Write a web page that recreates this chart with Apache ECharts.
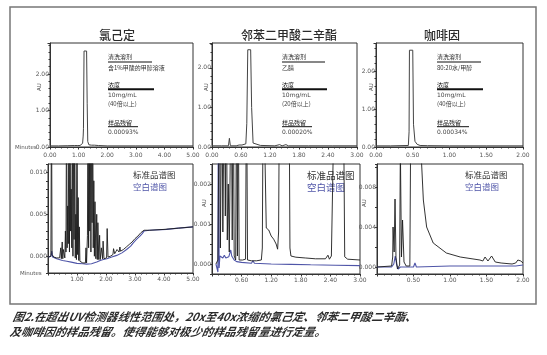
<!DOCTYPE html>
<html><head><meta charset="utf-8">
<script src="https://cdn.jsdelivr.net/npm/echarts@6/dist/echarts.min.js"></script>
<style>html,body{margin:0;padding:0;background:#fff}#c{width:547px;height:355px}</style>
</head><body><div id="c"></div>
<script>
// ---------- text content ----------
const titles = ['氯己定', '邻苯二甲酸二辛酯', '咖啡因'];
const solventHead = '清洗溶剂', concHead = '浓度', carryHead = '样品残留';
const solvents = ['含1%甲酸的甲醇溶液', '乙腈', '80:20水/甲醇'];
const concs = ['10mg/mL', '10mg/mL', '10mg/mL'];
const folds = ['(40倍以上)', '(20倍以上)', '(40倍以上)'];
const carryovers = ['0.00093%', '0.00020%', '0.00034%'];
const legendStd = '标准品谱图', legendBlank = '空白谱图';
const caption1 = '图2.在超出UV检测器线性范围处，20x至40x浓缩的氯己定、邻苯二甲酸二辛酯、';
const caption2 = '及咖啡因的样品残留。使得能够对极少的样品残留量进行定量。';

// ---------- axis ranges (min, max, interval) ----------
const xRanges = [[0, 5, 1], [0, 3, 0.6], [0, 2, 0.5]];
const topYMax = [2.85, 2.63, 2.74];

// ---------- top chromatograms (AU vs minutes) ----------
const chxTop = [[0,0.03],[0.3,0.03],[0.6,0.035],[0.85,0.04],[0.9,0.08],[0.95,0.04],[1.0,0.07],[1.05,0.04],[1.1,0.04],[1.14,0.1],[1.16,0.3],[1.17,0.5],[1.19,2.63],[1.28,2.63],[1.30,1.2],[1.32,0.15],[1.36,0.06],[1.45,0.05],[1.5,0.08],[1.55,0.05],[1.6,0.07],[1.7,0.04],[2.0,0.03],[3.0,0.03],[4.0,0.03],[5.0,0.03]];
const dopTop = [[0,0.03],[0.2,0.03],[0.34,0.03],[0.36,0.22],[0.38,0.03],[0.5,0.03],[0.56,0.05],[0.59,0.03],[0.62,0.05],[0.65,0.03],[0.70,0.08],[0.72,0.6],[0.74,2.46],[0.80,2.46],[0.82,1.0],[0.85,0.1],[0.89,0.06],[1.0,0.04],[1.3,0.03],[1.4,0.06],[1.45,0.03],[1.53,0.06],[1.58,0.03],[2.0,0.03],[2.5,0.03],[3.0,0.03]];
const cafTop = [[0,0.03],[0.2,0.03],[0.44,0.04],[0.45,0.4],[0.455,2.55],[0.50,2.55],[0.51,0.6],[0.53,0.15],[0.56,0.07],[0.6,0.04],[0.7,0.035],[1.0,0.03],[1.5,0.03],[2.0,0.03]];

// ---------- bottom chromatograms: standard (black) and blank (blue) ----------
const chxStd = [[0.02,-0.0001],[0.1,0.0000],[0.12,0.02],[0.14,0.0002],[0.2,-0.0001],[0.3,-0.0002],[0.4,-0.0002],[0.44,0.0010],[0.46,-0.0003],[0.49,0.0017],[0.51,-0.0003],[0.53,0.0008],[0.58,-0.0002],[0.6,0.0030],[0.62,0.0005],[0.64,0.02],[0.66,0.0010],[0.68,0.0060],[0.70,0.0015],[0.72,0.02],[0.74,0.0005],[0.76,0.02],[0.78,0.0030],[0.80,0.0080],[0.82,0.0010],[0.84,0.02],[0.86,0.0000],[0.88,0.02],[0.90,0.0020],[0.92,0.02],[0.94,-0.0002],[0.96,0.0050],[0.98,-0.0004],[1.00,0.02],[1.02,0.0002],[1.04,0.0070],[1.06,-0.0005],[1.08,0.0035],[1.10,-0.0006],[1.15,-0.0007],[1.20,-0.0008],[1.25,-0.0008],[1.29,-0.0008],[1.31,0.0010],[1.33,-0.0008],[1.36,0.0025],[1.38,0.02],[1.40,0.0010],[1.42,0.02],[1.44,0.0030],[1.46,0.02],[1.48,0.0005],[1.50,0.02],[1.52,0.0040],[1.54,0.02],[1.56,0.0010],[1.58,0.0090],[1.60,0.0000],[1.62,0.0065],[1.65,-0.0003],[1.68,0.0050],[1.70,-0.0004],[1.72,0.0040],[1.75,-0.0004],[1.78,0.0025],[1.80,-0.0004],[1.84,0.0010],[1.88,-0.0003],[1.90,0.0018],[1.93,-0.0003],[1.98,-0.0002],[2.02,-0.0002],[2.04,0.0033],[2.07,-0.0001],[2.15,0.0000],[2.24,0.0002],[2.26,0.0009],[2.30,0.0003],[2.36,0.0004],[2.38,0.0008],[2.45,0.0005],[2.48,0.0011],[2.50,0.0006],[2.60,0.0008],[2.70,0.0011],[2.80,0.0014],[2.90,0.0017],[3.00,0.0021],[3.10,0.0024],[3.20,0.0028],[3.31,0.0031],[3.50,0.0031],[4.00,0.0032],[4.50,0.00335],[5.00,0.0035]];
const chxBlank = [[0.02,-0.0001],[0.1,0.0000],[0.13,0.0006],[0.16,-0.0001],[0.3,-0.0003],[0.5,-0.0005],[0.65,-0.0006],[0.8,-0.0007],[1.0,-0.00085],[1.2,-0.0009],[1.33,-0.00094],[1.5,-0.0009],[1.68,-0.0007],[1.8,-0.0005],[1.91,-0.0004],[2.03,-0.0003],[2.2,-0.0001],[2.37,0.0001],[2.55,0.0004],[2.71,0.0008],[2.85,0.0012],[2.94,0.0016],[3.05,0.0020],[3.17,0.0024],[3.25,0.0027],[3.31,0.0030],[3.5,0.0031],[4.09,0.0032],[4.5,0.00335],[5.0,0.0035]];

const dopStd = [[0.08,0.0000],[0.12,0.0001],[0.15,0.005],[0.17,0.0004],[0.20,0.005],[0.22,0.0008],[0.25,0.005],[0.27,0.0012],[0.29,0.005],[0.31,0.0006],[0.33,0.0020],[0.35,0.0003],[0.39,0.005],[0.41,0.0006],[0.43,0.005],[0.45,0.0002],[0.48,0.0001],[0.50,0.005],[0.515,0.0002],[0.53,0.005],[0.55,0.0001],[0.62,0.0001],[0.68,0.00012],[0.70,0.005],[0.72,0.0001],[0.8,0.00008],[0.9,0.00008],[1.0,0.0001],[1.02,0.0004],[1.04,0.005],[1.08,0.005],[1.1,0.0009],[1.15,0.00085],[1.2,0.0007],[1.25,0.00062],[1.28,0.0006],[1.30,0.0005],[1.33,0.00037],[1.35,0.0008],[1.37,0.005],[1.56,0.005],[1.58,0.0004],[1.6,0.0002],[1.7,0.00017],[1.9,0.00015],[2.1,0.00013],[2.3,0.00013],[2.35,0.00022],[2.38,0.00012],[2.42,0.0002],[2.45,0.00015],[2.49,0.005],[2.66,0.005],[2.69,0.00018],[2.75,0.00012],[3.0,0.0001]];
const dopBlank = [[0.08,0.0000],[0.12,-0.0002],[0.13,0.005],[0.145,-0.0001],[0.16,0.0002],[0.18,0.00015],[0.2,0.0002],[0.22,0.00015],[0.25,0.00022],[0.28,0.00015],[0.31,0.0002],[0.34,0.00018],[0.37,0.0002],[0.38,0.00035],[0.40,0.0002],[0.45,0.0001],[0.5,0.00006],[0.6,0.00004],[0.8,0.00002],[0.83,0.00008],[0.86,0.00002],[1.2,0.0],[1.6,-0.00001],[2.0,-0.00002],[2.5,-0.00003],[3.0,-0.00004]];

const cafStd = [[0,0.0000],[0.2,0.0001],[0.215,0.0010],[0.22,0.0040],[0.235,0.0015],[0.247,0.0068],[0.26,0.0010],[0.28,-0.0002],[0.31,0.0002],[0.32,0.012],[0.335,0.0010],[0.35,0.0047],[0.37,0.0005],[0.40,0.0001],[0.45,0.0001],[0.46,0.012],[0.60,0.012],[0.635,0.0067],[0.68,0.0040],[0.77,0.0024],[0.95,0.0014],[1.14,0.0010],[1.41,0.0007],[1.45,0.0006],[1.48,0.0010],[1.52,0.0006],[1.57,0.0011],[1.62,0.0005],[1.7,0.0004],[1.85,0.0003],[1.9,0.0004],[1.93,0.0007],[1.97,0.0006],[2.0,0.0004]];
const cafBlank = [[0,0.0000],[0.2,0.0000],[0.23,0.0003],[0.25,0.0011],[0.27,0.0002],[0.29,-0.0002],[0.32,0.0000],[0.5,0.0000],[0.52,0.0004],[0.54,0.0000],[1.0,0.0001],[1.5,0.0001],[1.9,0.0001],[2.0,0.0002]];

// ---------- chart ----------
const AXC = '#333', LBL = '#555';
const numFont = 'DejaVu Sans', cjk = '"Noto Sans CJK SC", sans-serif';
const grids = [
  {left: 50, top: 43, width: 143, height: 104},
  {left: 212, top: 43, width: 145, height: 104},
  {left: 376, top: 43, width: 147, height: 104},
  {left: 48, top: 164, width: 145, height: 109},
  {left: 212, top: 164, width: 148, height: 110},
  {left: 377, top: 164, width: 146, height: 110}
].map(g => Object.assign({show: true, borderColor: AXC, borderWidth: 1, containLabel: false, outerBoundsMode: 'none'}, g));

const isMult = (v, m) => Math.abs(v / m - Math.round(v / m)) < 1e-6;

const xAxis = [];
for (let i = 0; i < 6; i++) {
  const r = xRanges[i % 3], bottom = i >= 3;
  xAxis.push({
    type: 'value', gridIndex: i, min: r[0], max: r[1], interval: r[2],
    axisLine: {show: true, onZero: false, lineStyle: {color: AXC, width: 1}},
    axisTick: {show: true, length: 2.5, lineStyle: {color: AXC}},
    minorTick: {show: true, splitNumber: 5, length: 1.5, lineStyle: {color: AXC}},
    splitLine: {show: false},
    axisLabel: {fontSize: 6, fontFamily: numFont, color: LBL, margin: bottom ? 3 : 5,
      formatter: v => (bottom && v === 0) ? '' : v.toFixed(2)}
  });
}
const yAxis = [];
for (let i = 0; i < 3; i++) {
  yAxis.push({
    type: 'value', gridIndex: i, min: 0, max: topYMax[i], interval: 1,
    axisLine: {show: true, onZero: false, lineStyle: {color: AXC}},
    axisTick: {show: true, length: 2.5, lineStyle: {color: AXC}},
    minorTick: {show: true, splitNumber: 5, length: 1.5, lineStyle: {color: AXC}},
    splitLine: {show: false},
    axisLabel: {fontSize: 6, fontFamily: numFont, color: LBL, margin: 1,
      formatter: v => isMult(v, 1) ? v.toFixed(2) : ''}
  });
}
const botY = [
  {min: -0.002, max: 0.011, interval: 0.001, lab: 0.005},
  {min: -0.00025, max: 0.0025, interval: 0.00025, lab: 0.001},
  {min: -0.0007, max: 0.0103, lab: 0.004}
];
botY.forEach((b, k) => {
  const ax = {
    type: 'value', gridIndex: 3 + k, min: b.min, max: b.max,
    axisLine: {show: true, onZero: false, lineStyle: {color: AXC}},
    axisTick: {show: true, length: 2, lineStyle: {color: AXC}},
    splitLine: {show: false},
    axisLabel: {fontSize: 6, fontFamily: numFont, color: LBL, margin: 1,
      formatter: v => isMult(v, b.lab) ? v.toFixed(3) : ''}
  };
  if (b.interval) ax.interval = b.interval;
  yAxis.push(ax);
});

const mk = (data, idx, color, w) => ({
  type: 'line', data: data, xAxisIndex: idx, yAxisIndex: idx, showSymbol: false, symbol: 'none',
  lineStyle: {color: color, width: w}, itemStyle: {color: color}, clip: true, silent: true, animation: false
});
const BLUE = '#4f55a8', BLK = '#1c1c1c', TOP = '#444';
const series = [
  mk(chxTop, 0, TOP, 1), mk(dopTop, 1, TOP, 1), mk(cafTop, 2, TOP, 1),
  mk(chxBlank, 3, BLUE, 1.1), mk(chxStd, 3, BLK, 0.9),
  mk(dopBlank, 4, BLUE, 1.1), mk(dopStd, 4, BLK, 0.9),
  mk(cafBlank, 5, BLUE, 1.1), mk(cafStd, 5, BLK, 0.9)
];

// ---------- graphics ----------
const g = [];
const T = (x, y, s, size, color, fam, ext) => g.push(Object.assign({type: 'text', x: x, y: y, silent: true,
  style: {text: s, fill: color, fontSize: size, fontFamily: fam, align: 'left', verticalAlign: 'middle'}}, ext || {}));
const L = (x1, y1, x2, y2, w, c) => g.push({type: 'line', silent: true, shape: {x1, y1, x2, y2}, style: {stroke: c || '#111', lineWidth: w}});

g.push({type: 'rect', silent: true, shape: {x: 10, y: 7, width: 526, height: 297}, style: {fill: 'none', stroke: '#777', lineWidth: 1.5}});
const titleX = [117, 289, 442];
titles.forEach((t, i) => T(titleX[i], 35, t, 12, '#333', cjk, {style: {text: t, fill: '#2a2a2a', fontSize: 12, fontFamily: cjk, fontWeight: 500, align: 'center', verticalAlign: 'middle'}}));
const annX = [108, 282, 437], ul1 = [152, 325, 481], ul2 = [154, 327, 483], ul3 = [138, 312, 469];
for (let i = 0; i < 3; i++) {
  const x = annX[i];
  T(x, 57, solventHead, 6, '#222', cjk);
  L(x, 62, ul1[i], 62, 1.2);
  T(x, 67.5, solvents[i], 6, '#333', cjk);
  T(x, 85, concHead, 6, '#222', cjk);
  L(x, 89.3, ul2[i], 89.3, 2);
  T(x, 95.5, concs[i], 6, '#444', numFont);
  T(x, 104, folds[i], 6, '#444', cjk);
  T(x, 122.5, carryHead, 6, '#222', cjk);
  L(x, 126.7, ul3[i], 126.7, 1);
  T(x, 132, carryovers[i], 6, '#444', numFont);
}
const legX = [133, 307, 465], legS = [8.5, 9.5, 8.5];
for (let i = 0; i < 3; i++) {
  T(legX[i], 175, legendStd, legS[i], '#333', cjk);
  T(legX[i], 187, legendBlank, legS[i], BLUE, cjk);
}
T(15, 148, 'Minutes', 5.5, LBL, numFont);
T(20, 274, 'Minutes', 5.5, LBL, numFont);
[[40, 87], [207, 87], [372, 87], [205, 203], [365, 203]].forEach(p => g.push({type: 'text', x: p[0], y: p[1], rotation: Math.PI / 2, silent: true,
  style: {text: 'AU', fill: LBL, fontSize: 5.5, fontFamily: numFont, align: 'center', verticalAlign: 'middle'}}));
const capStyle = s => ({text: s, fill: '#2b2b2b', fontSize: 11.3, fontFamily: cjk, fontWeight: 'bold', fontStyle: 'italic', align: 'left', verticalAlign: 'middle'});
g.push({type: 'text', x: 13, y: 317, skewX: -0.2, silent: true, style: capStyle(caption1)});
g.push({type: 'text', x: 10, y: 332, skewX: -0.2, silent: true, style: capStyle(caption2)});

const chart = echarts.init(document.getElementById('c'), null, {renderer: 'canvas'});
chart.setOption({animation: false, backgroundColor: '#fff', grid: grids, xAxis: xAxis, yAxis: yAxis, series: series, graphic: g});
</script></body></html>
